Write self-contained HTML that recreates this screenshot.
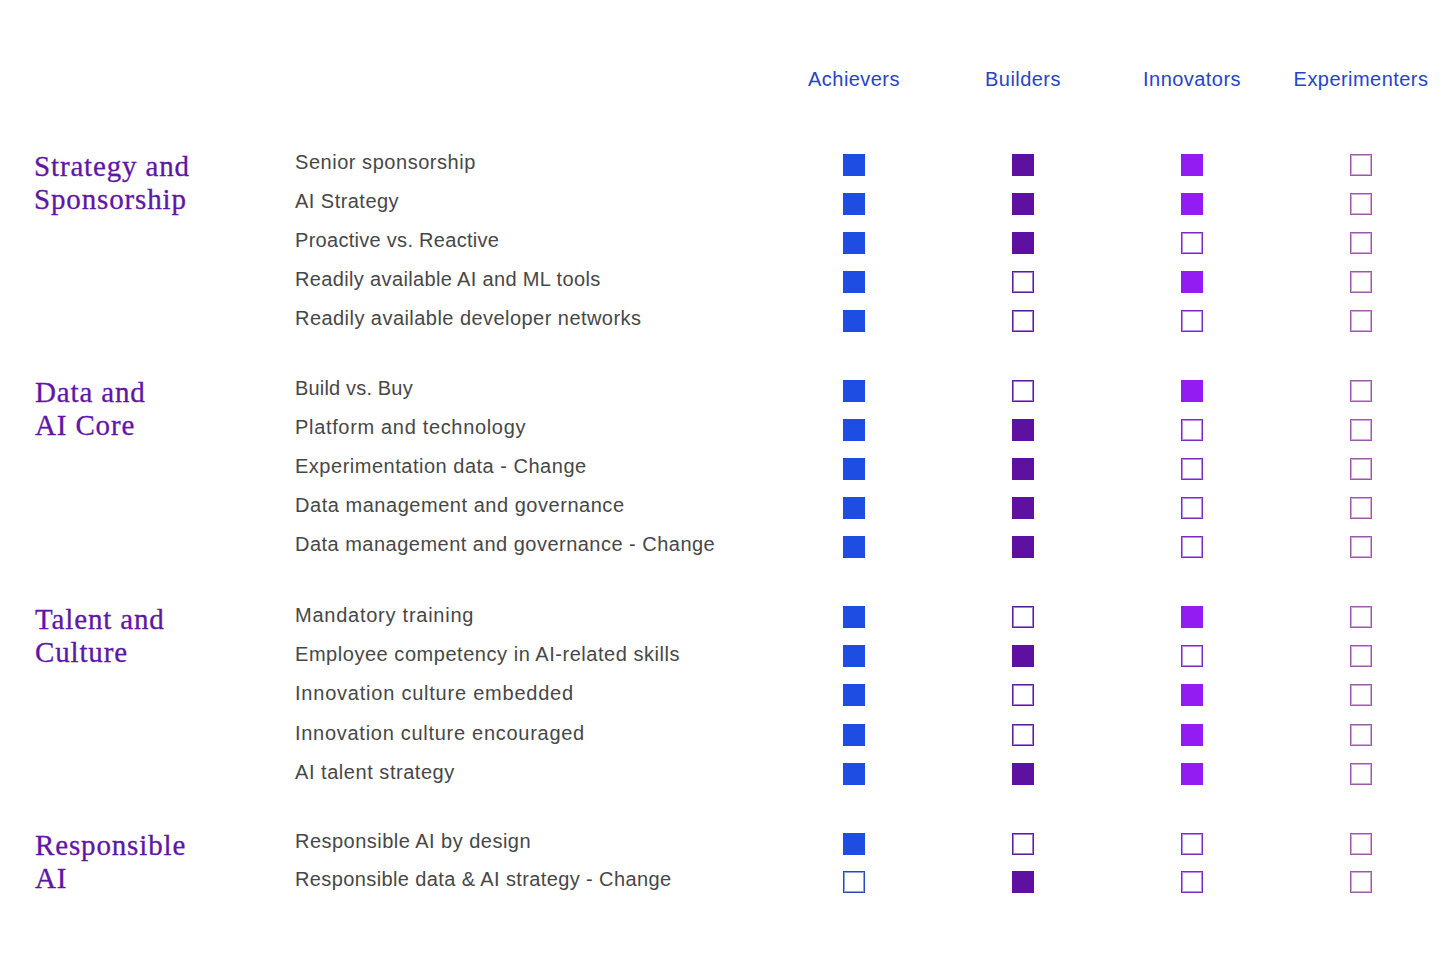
<!DOCTYPE html>
<html><head><meta charset="utf-8"><title>AI maturity</title>
<style>
html,body{margin:0;padding:0;background:#fff;}
body{width:1452px;height:964px;position:relative;overflow:hidden;}
.h{position:absolute;top:69px;width:169px;margin-left:-84.5px;text-align:center;font-family:"Liberation Sans",sans-serif;font-size:20px;letter-spacing:0.45px;color:#2844C6;line-height:20px;white-space:nowrap;}
.t{position:absolute;left:295px;font-family:"Liberation Sans",sans-serif;font-size:20px;letter-spacing:0.48px;color:#474747;line-height:20px;white-space:nowrap;-webkit-text-stroke:0px #474747;}
.s{position:absolute;left:35px;font-family:"Liberation Serif",serif;font-size:29px;letter-spacing:0.85px;color:#5F16A6;line-height:33px;white-space:nowrap;-webkit-text-stroke:0.3px #5F16A6;}
.b{position:absolute;width:22px;height:22px;box-sizing:border-box;}
.f0{background:#1E4DE4;}
.o0{border:1px solid #2B48B8;box-shadow:inset 0 0 0 1px #8FA2E6;background:#fff;}
.f1{background:#5E10A2;}
.o1{border:1px solid #5A1E98;box-shadow:inset 0 0 0 1px #A57BD8;background:#fff;}
.f2{background:#921CF2;}
.o2{border:1px solid #7A2CC2;box-shadow:inset 0 0 0 1px #C08AF0;background:#fff;}
.f3{background:#fff;}
.o3{border:1px solid #9A5AA8;box-shadow:inset 0 0 0 1px #D3A6DC;background:#fff;}
</style></head><body>
<div class="h" style="left:854px">Achievers</div>
<div class="h" style="left:1023px">Builders</div>
<div class="h" style="left:1192px">Innovators</div>
<div class="h" style="left:1361px">Experimenters</div>
<div class="s" style="top:150px;left:34px">Strategy and<br>Sponsorship</div>
<div class="t" style="top:152px;letter-spacing:0.536px">Senior sponsorship</div>
<div class="b f0" style="left:843px;top:154px"></div>
<div class="b f1" style="left:1012px;top:154px"></div>
<div class="b f2" style="left:1181px;top:154px"></div>
<div class="b o3" style="left:1350px;top:154px"></div>
<div class="t" style="top:191px;letter-spacing:0.462px">AI Strategy</div>
<div class="b f0" style="left:843px;top:193px"></div>
<div class="b f1" style="left:1012px;top:193px"></div>
<div class="b f2" style="left:1181px;top:193px"></div>
<div class="b o3" style="left:1350px;top:193px"></div>
<div class="t" style="top:230px;letter-spacing:0.289px">Proactive vs. Reactive</div>
<div class="b f0" style="left:843px;top:232px"></div>
<div class="b f1" style="left:1012px;top:232px"></div>
<div class="b o2" style="left:1181px;top:232px"></div>
<div class="b o3" style="left:1350px;top:232px"></div>
<div class="t" style="top:269px;letter-spacing:0.353px">Readily available AI and ML tools</div>
<div class="b f0" style="left:843px;top:271px"></div>
<div class="b o1" style="left:1012px;top:271px"></div>
<div class="b f2" style="left:1181px;top:271px"></div>
<div class="b o3" style="left:1350px;top:271px"></div>
<div class="t" style="top:308px;letter-spacing:0.452px">Readily available developer networks</div>
<div class="b f0" style="left:843px;top:310px"></div>
<div class="b o1" style="left:1012px;top:310px"></div>
<div class="b o2" style="left:1181px;top:310px"></div>
<div class="b o3" style="left:1350px;top:310px"></div>
<div class="s" style="top:376px;left:35px">Data and<br>AI Core</div>
<div class="t" style="top:378px;letter-spacing:0.172px">Build vs. Buy</div>
<div class="b f0" style="left:843px;top:380px"></div>
<div class="b o1" style="left:1012px;top:380px"></div>
<div class="b f2" style="left:1181px;top:380px"></div>
<div class="b o3" style="left:1350px;top:380px"></div>
<div class="t" style="top:417px;letter-spacing:0.671px">Platform and technology</div>
<div class="b f0" style="left:843px;top:419px"></div>
<div class="b f1" style="left:1012px;top:419px"></div>
<div class="b o2" style="left:1181px;top:419px"></div>
<div class="b o3" style="left:1350px;top:419px"></div>
<div class="t" style="top:456px;letter-spacing:0.511px">Experimentation data - Change</div>
<div class="b f0" style="left:843px;top:458px"></div>
<div class="b f1" style="left:1012px;top:458px"></div>
<div class="b o2" style="left:1181px;top:458px"></div>
<div class="b o3" style="left:1350px;top:458px"></div>
<div class="t" style="top:495px;letter-spacing:0.533px">Data management and governance</div>
<div class="b f0" style="left:843px;top:497px"></div>
<div class="b f1" style="left:1012px;top:497px"></div>
<div class="b o2" style="left:1181px;top:497px"></div>
<div class="b o3" style="left:1350px;top:497px"></div>
<div class="t" style="top:534px;letter-spacing:0.483px">Data management and governance - Change</div>
<div class="b f0" style="left:843px;top:536px"></div>
<div class="b f1" style="left:1012px;top:536px"></div>
<div class="b o2" style="left:1181px;top:536px"></div>
<div class="b o3" style="left:1350px;top:536px"></div>
<div class="s" style="top:603px;left:35px">Talent and<br>Culture</div>
<div class="t" style="top:605px;letter-spacing:0.752px">Mandatory training</div>
<div class="b f0" style="left:843px;top:606px"></div>
<div class="b o1" style="left:1012px;top:606px"></div>
<div class="b f2" style="left:1181px;top:606px"></div>
<div class="b o3" style="left:1350px;top:606px"></div>
<div class="t" style="top:644px;letter-spacing:0.540px">Employee competency in AI-related skills</div>
<div class="b f0" style="left:843px;top:645px"></div>
<div class="b f1" style="left:1012px;top:645px"></div>
<div class="b o2" style="left:1181px;top:645px"></div>
<div class="b o3" style="left:1350px;top:645px"></div>
<div class="t" style="top:683px;letter-spacing:0.776px">Innovation culture embedded</div>
<div class="b f0" style="left:843px;top:684px"></div>
<div class="b o1" style="left:1012px;top:684px"></div>
<div class="b f2" style="left:1181px;top:684px"></div>
<div class="b o3" style="left:1350px;top:684px"></div>
<div class="t" style="top:723px;letter-spacing:0.718px">Innovation culture encouraged</div>
<div class="b f0" style="left:843px;top:724px"></div>
<div class="b o1" style="left:1012px;top:724px"></div>
<div class="b f2" style="left:1181px;top:724px"></div>
<div class="b o3" style="left:1350px;top:724px"></div>
<div class="t" style="top:762px;letter-spacing:0.541px">AI talent strategy</div>
<div class="b f0" style="left:843px;top:763px"></div>
<div class="b f1" style="left:1012px;top:763px"></div>
<div class="b f2" style="left:1181px;top:763px"></div>
<div class="b o3" style="left:1350px;top:763px"></div>
<div class="s" style="top:829px;left:35px">Responsible<br>AI</div>
<div class="t" style="top:831px;letter-spacing:0.476px">Responsible AI by design</div>
<div class="b f0" style="left:843px;top:833px"></div>
<div class="b o1" style="left:1012px;top:833px"></div>
<div class="b o2" style="left:1181px;top:833px"></div>
<div class="b o3" style="left:1350px;top:833px"></div>
<div class="t" style="top:869px;letter-spacing:0.388px">Responsible data &amp; AI strategy - Change</div>
<div class="b o0" style="left:843px;top:871px"></div>
<div class="b f1" style="left:1012px;top:871px"></div>
<div class="b o2" style="left:1181px;top:871px"></div>
<div class="b o3" style="left:1350px;top:871px"></div>
</body></html>
